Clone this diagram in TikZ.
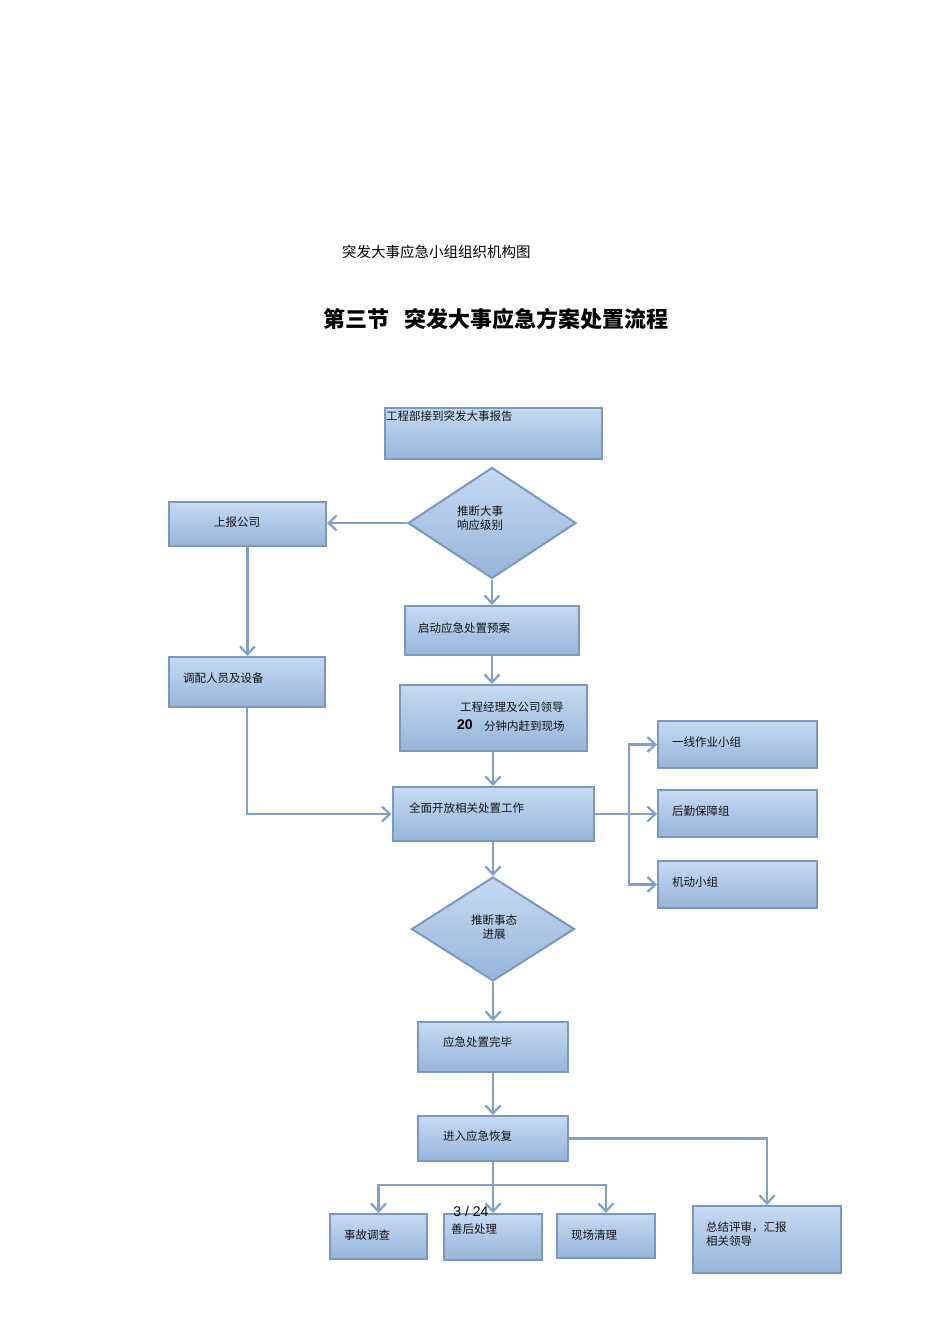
\documentclass[tikz,border=0pt]{standalone}
\usepackage{fontspec}
\newfontfamily\cjk{Noto Sans CJK SC}
\newfontfamily\lat{Liberation Sans}
\usetikzlibrary{arrows.meta,shapes.geometric}
\definecolor{boxtop}{RGB}{197,218,242}
\definecolor{boxbot}{RGB}{150,181,218}
\definecolor{boxline}{RGB}{122,153,193}
\definecolor{arrcol}{RGB}{128,160,202}
\definecolor{txtcol}{RGB}{20,20,20}
\tikzset{
  box/.style={draw=boxline, line width=2pt, top color=boxtop, bottom color=boxbot, inner sep=0pt},
  dia/.style={diamond, draw=boxline, line width=2pt, top color=boxtop, bottom color=boxbot, inner sep=0pt},
  lbl/.style={font=\cjk\fontsize{11.5}{14}\selectfont, text=txtcol, inner sep=0pt},
  arr/.style={draw=arrcol, line width=2.5pt, -{Straight Barb[length=8pt,width=15pt,line width=2.2pt]}},
  ln/.style={draw=arrcol, line width=2.5pt}
}
\begin{document}
\begin{tikzpicture}[x=1pt,y=-1pt]
\useasboundingbox[fill=white] (0,0) rectangle (950,1344);

% titles
\node[font=\cjk\fontsize{14.5}{17}\selectfont, inner sep=0pt, anchor=west] (t1) at (342,252) {突发大事应急小组组织机构图};
\node[font=\cjk\bfseries\fontsize{22}{25}\selectfont, inner sep=0pt, anchor=west] (t2) at (323,319) {第三节\hspace{0.7em}突发大事应急方案处置流程};

% boxes
\node[box, minimum width=217pt, minimum height=51pt] (A) at (493.5,433.5) {};
\node[dia, minimum width=168pt, minimum height=111pt] (D1) at (492,523) {};
\node[box, minimum width=157pt, minimum height=44pt] (B) at (247.5,524) {};
\node[box, minimum width=174pt, minimum height=49pt] (C) at (492,630.5) {};
\node[box, minimum width=156pt, minimum height=50pt] (E) at (247,682) {};
\node[box, minimum width=187pt, minimum height=66pt] (F) at (493,718) {};
\node[box, minimum width=201pt, minimum height=54pt] (G) at (493,814) {};
\node[box, minimum width=159pt, minimum height=47pt] (H1) at (737.5,744.5) {};
\node[box, minimum width=159pt, minimum height=47pt] (H2) at (737.5,813.5) {};
\node[box, minimum width=159pt, minimum height=47pt] (H3) at (737.5,884.5) {};
\node[dia, minimum width=163pt, minimum height=104pt] (D2) at (493,929) {};
\node[box, minimum width=150pt, minimum height=50pt] (I) at (493,1047) {};
\node[box, minimum width=150pt, minimum height=45pt] (J) at (493,1138.5) {};
\node[box, minimum width=97pt, minimum height=45pt] (K1) at (378.5,1236.5) {};
\node[box, minimum width=98pt, minimum height=46pt] (K2) at (493,1237) {};
\node[box, minimum width=98pt, minimum height=44pt] (K3) at (606,1236) {};
\node[box, minimum width=148pt, minimum height=67pt] (K4) at (767,1239.5) {};

% texts
\node[lbl, anchor=west] (At) at (386,416) {工程部接到突发大事报告};
\node[lbl, align=center] (D1t) at (480,518) {推断大事\\响应级别};
\node[lbl, anchor=west] (Bt) at (214,522) {上报公司};
\node[lbl, anchor=west] (Ct) at (418,628) {启动应急处置预案};
\node[lbl, anchor=west] (Et) at (183,678) {调配人员及设备};
\node[lbl, anchor=west] (Ft1) at (460,707) {工程经理及公司领导};
\node[font=\lat\bfseries\fontsize{14}{16}\selectfont, inner sep=0pt, anchor=west] (Fn) at (457,725) {20};
\node[lbl, anchor=west] (Ft2) at (484,726) {分钟内赶到现场};
\node[lbl, anchor=west] (Gt) at (409,808) {全面开放相关处置工作};
\node[lbl, anchor=west] (H1t) at (672,742) {一线作业小组};
\node[lbl, anchor=west] (H2t) at (672,811) {后勤保障组};
\node[lbl, anchor=west] (H3t) at (672,882) {机动小组};
\node[lbl, align=center] (D2t) at (494,927) {推断事态\\进展};
\node[lbl, anchor=west] (It) at (443,1042) {应急处置完毕};
\node[lbl, anchor=west] (Jt) at (443,1136) {进入应急恢复};
\node[lbl, anchor=west] (K1t) at (344,1235) {事故调查};
\node[lbl, anchor=west] (K2t) at (451,1229) {善后处理};
\node[lbl, anchor=west] (K3t) at (571,1235) {现场清理};
\node[lbl, anchor=west, align=left] (K4t) at (706,1234) {总结评审，汇报\\相关领导};

% connectors
\draw[arr] (D1.west) -- (D1.west -| B.east);
\draw[arr] (D1.south) -- (D1.south |- C.north);
\draw[arr] (B.south) -- (B.south |- E.north);
\draw[arr] (C.south) -- (C.south |- F.north);
\draw[arr] (E.south) |- (G.west);
\draw[arr] (F.south) -- (G.north);
\coordinate (sp) at (629,814);
\draw[ln] (G.east) -- (sp);
\draw[arr] (sp) |- (H1.west);
\draw[arr] (sp) -- (sp -| H2.west);
\draw[arr] (sp) |- (H3.west);
\draw[arr] (G.south) -- (D2.north);
\draw[arr] (D2.south) -- (I.north);
\draw[arr] (I.south) -- (J.north);
\coordinate (bus) at (493,1185);
\draw[arr] (J.south) -- (K2.north);
\draw[arr] (bus) -| (K1.north);
\draw[arr] (bus) -| (K3.north);
\draw[arr] (J.east) -| (K4.north);

% page number
\node[font=\lat\fontsize{14}{16}\selectfont, inner sep=0pt] (pg) at (471,1211) {3 / 24};
\end{tikzpicture}
\end{document}
